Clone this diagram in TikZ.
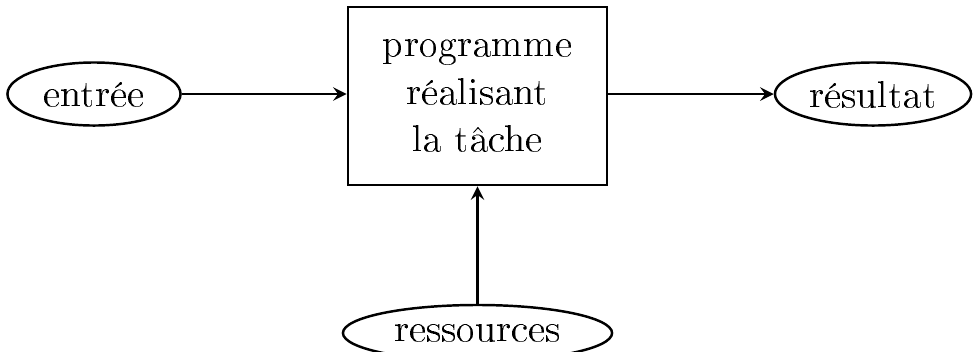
\documentclass[tikz,border=0pt]{standalone}
\usepackage[T1]{fontenc}
\usepackage{tikz}
\usetikzlibrary{shapes.geometric}

\tikzset{
  bulle/.style={draw, ellipse, line width=0.7pt, inner sep=0pt, minimum height=0.63cm},
  boite/.style={draw, rectangle, line width=0.7pt, align=center, minimum width=2.59cm, minimum height=1.78cm},
  fleche/.style={->, line width=0.7pt}
}

\begin{document}
\begin{tikzpicture}[x=0.01cm, y=-0.01cm, >=stealth, font=\fontsize{11.3}{13.5}\selectfont]
        \useasboundingbox (0,0) rectangle (974,351);
        \node[boite] (prog) at (477.5,96) {programme\\réalisant\\la tâche};
        \node[bulle, minimum width=1.73cm] (entree) at (94,94) {entrée};
        \node[bulle, minimum width=1.96cm] (resultat) at (873,94) {résultat};
        \node[bulle, minimum width=2.69cm, minimum height=0.56cm] (ressources) at (477.5,333) {ressources};
        \draw[fleche] (entree) -- (entree -| prog.west);
        \draw[fleche] (resultat -| prog.east) -- (resultat);
        \draw[fleche] (ressources) -- (ressources |- prog.south);
    \end{tikzpicture}
\end{document}
